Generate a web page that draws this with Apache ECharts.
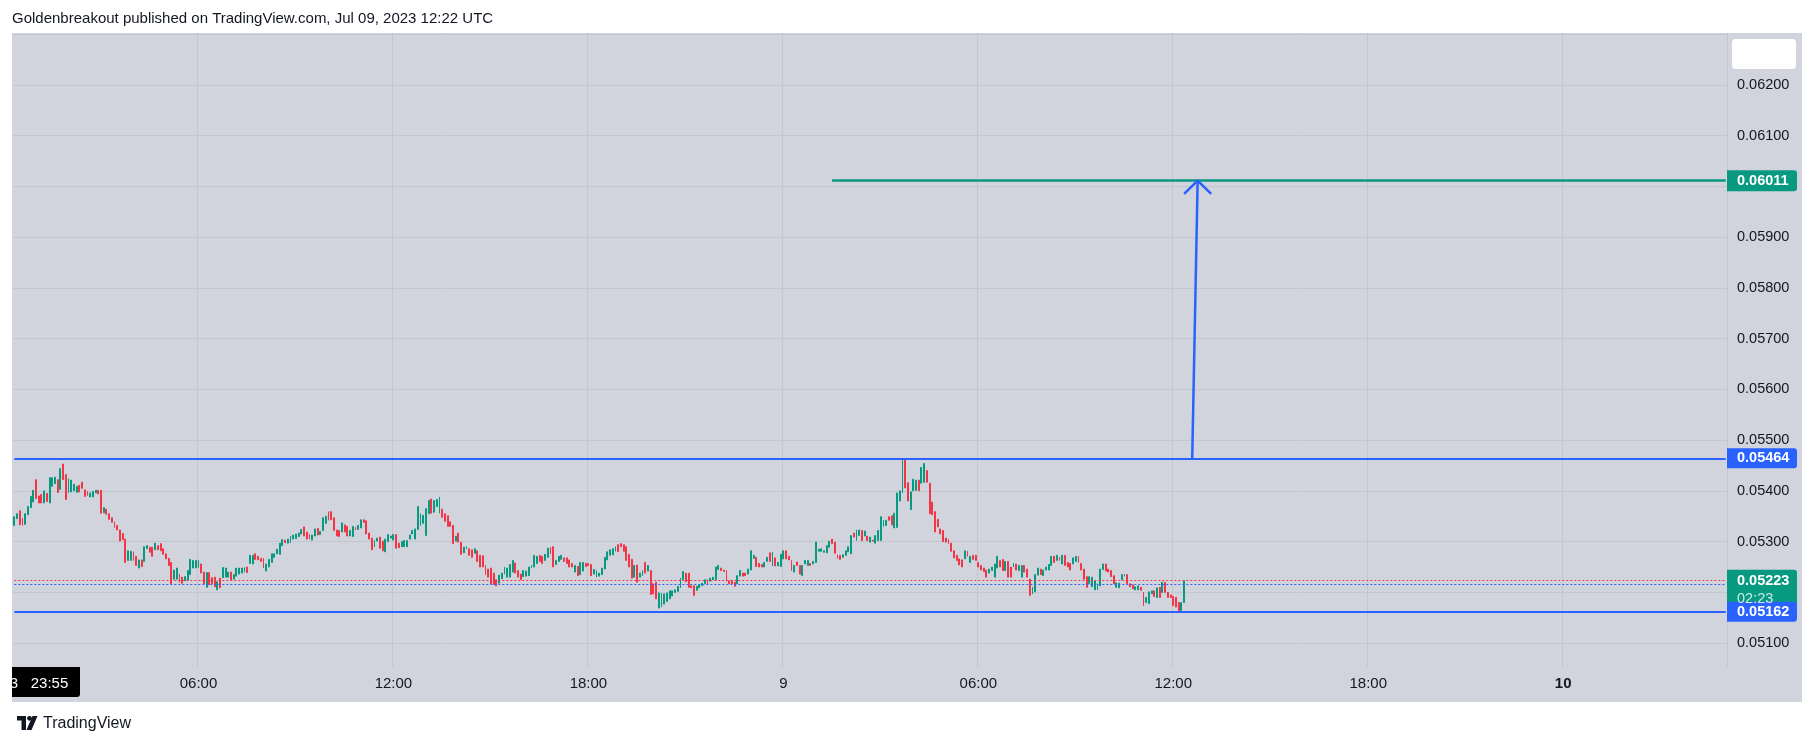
<!DOCTYPE html>
<html><head><meta charset="utf-8">
<script src="https://cdn.jsdelivr.net/npm/echarts@6/dist/echarts.min.js"></script>
<style>
html,body{margin:0;padding:0;background:#fff;}
#wrap{position:relative;width:1815px;height:746px;overflow:hidden;}
#panel{position:absolute;left:12px;top:33px;width:1790px;height:669px;background:#D1D4DC;}
#c{position:absolute;left:0;top:0;width:1815px;height:746px;}
</style>
</head><body><div id="wrap"><div id="panel"></div><div id="c"></div></div>
<script>
// ---- data (5-minute bars, Jul 8 00:20 UTC -> Jul 9 12:20 UTC) ----
const opens = [
0.05332,0.05345,0.05361,0.05346,0.05334,0.05353,0.05367,0.05378,0.05422,0.05390,0.05393,0.05376,0.05395,0.05376,0.05409,0.05414,0.05422,0.05403,0.05453,0.05432,
0.05396,0.05398,0.05400,0.05397,0.05411,0.05417,0.05402,0.05399,0.05388,0.05388,0.05396,0.05401,0.05401,0.05357,0.05364,0.05355,0.05347,0.05339,0.05332,0.05323,
0.05316,0.05305,0.05263,0.05263,0.05280,0.05271,0.05248,0.05264,0.05261,0.05286,0.05289,0.05289,0.05284,0.05292,0.05296,0.05286,0.05276,0.05267,0.05259,0.05226,
0.05226,0.05236,0.05230,0.05223,0.05224,0.05235,0.05248,0.05248,0.05249,0.05256,0.05240,0.05210,0.05239,0.05229,0.05230,0.05205,0.05228,0.05229,0.05230,0.05230,
0.05240,0.05226,0.05232,0.05236,0.05238,0.05240,0.05250,0.05257,0.05256,0.05276,0.05271,0.05267,0.05267,0.05242,0.05250,0.05259,0.05269,0.05276,0.05275,0.05292,
0.05303,0.05297,0.05298,0.05305,0.05306,0.05310,0.05315,0.05329,0.05319,0.05314,0.05303,0.05311,0.05326,0.05314,0.05322,0.05336,0.05359,0.05359,0.05347,0.05323,
0.05322,0.05319,0.05333,0.05330,0.05311,0.05310,0.05328,0.05324,0.05327,0.05343,0.05341,0.05317,0.05307,0.05290,0.05301,0.05309,0.05301,0.05280,0.05300,0.05307,
0.05303,0.05314,0.05297,0.05290,0.05290,0.05290,0.05305,0.05315,0.05305,0.05324,0.05332,0.05336,0.05312,0.05355,0.05384,0.05358,0.05369,0.05356,0.05364,0.05355,
0.05351,0.05339,0.05332,0.05301,0.05317,0.05299,0.05278,0.05286,0.05286,0.05284,0.05277,0.05282,0.05273,0.05272,0.05253,0.05246,0.05248,0.05238,0.05225,0.05218,
0.05227,0.05236,0.05230,0.05230,0.05240,0.05258,0.05243,0.05236,0.05231,0.05232,0.05233,0.05248,0.05250,0.05257,0.05273,0.05271,0.05263,0.05269,0.05289,0.05290,
0.05255,0.05261,0.05265,0.05268,0.05268,0.05264,0.05257,0.05240,0.05251,0.05235,0.05242,0.05257,0.05257,0.05255,0.05236,0.05230,0.05232,0.05235,0.05246,0.05264,
0.05273,0.05274,0.05281,0.05294,0.05296,0.05294,0.05290,0.05275,0.05265,0.05230,0.05254,0.05230,0.05233,0.05259,0.05242,0.05243,0.05217,0.05220,0.05169,0.05171,
0.05177,0.05182,0.05187,0.05193,0.05200,0.05202,0.05209,0.05225,0.05238,0.05238,0.05213,0.05213,0.05204,0.05209,0.05213,0.05217,0.05225,0.05222,0.05225,0.05225,
0.05245,0.05248,0.05244,0.05243,0.05223,0.05223,0.05220,0.05217,0.05232,0.05238,0.05238,0.05236,0.05244,0.05267,0.05269,0.05257,0.05255,0.05250,0.05261,0.05278,
0.05252,0.05268,0.05252,0.05251,0.05266,0.05282,0.05271,0.05263,0.05240,0.05260,0.05253,0.05233,0.05256,0.05253,0.05257,0.05256,0.05259,0.05281,0.05281,0.05279,
0.05278,0.05289,0.05305,0.05299,0.05274,0.05273,0.05269,0.05273,0.05280,0.05276,0.05317,0.05302,0.05312,0.05322,0.05311,0.05311,0.05299,0.05303,0.05297,0.05302,
0.05302,0.05330,0.05332,0.05349,0.05351,0.05327,0.05328,0.05380,0.05396,0.05463,0.05416,0.05363,0.05400,0.05401,0.05421,0.05415,0.05417,0.05440,0.05415,0.05378,
0.05359,0.05344,0.05325,0.05322,0.05307,0.05305,0.05297,0.05282,0.05273,0.05266,0.05264,0.05266,0.05281,0.05259,0.05273,0.05273,0.05259,0.05253,0.05248,0.05244,
0.05238,0.05243,0.05230,0.05248,0.05263,0.05265,0.05243,0.05261,0.05250,0.05250,0.05256,0.05243,0.05230,0.05253,0.05246,0.05226,0.05197,0.05201,0.05234,0.05246,
0.05233,0.05244,0.05244,0.05253,0.05271,0.05263,0.05269,0.05256,0.05273,0.05259,0.05257,0.05256,0.05261,0.05271,0.05257,0.05246,0.05231,0.05217,0.05211,0.05205,
0.05205,0.05213,0.05245,0.05256,0.05246,0.05243,0.05233,0.05210,0.05209,0.05225,0.05232,0.05235,0.05217,0.05215,0.05205,0.05205,0.05210,0.05200,0.05180,0.05178,
0.05197,0.05203,0.05190,0.05210,0.05200,0.05220,0.05200,0.05195,0.05192,0.05190,0.05180,0.05164,0.05180
];
const closes = [
0.05349,0.05355,0.05333,0.05332,0.05355,0.05369,0.05389,0.05401,0.05385,0.05376,0.05376,0.05400,0.05379,0.05426,0.05426,0.05427,0.05397,0.05444,0.05422,0.05383,
0.05424,0.05421,0.05413,0.05409,0.05398,0.05405,0.05389,0.05391,0.05396,0.05399,0.05401,0.05394,0.05356,0.05367,0.05354,0.05344,0.05338,0.05328,0.05323,0.05301,
0.05304,0.05259,0.05282,0.05281,0.05263,0.05253,0.05264,0.05251,0.05290,0.05292,0.05279,0.05271,0.05297,0.05284,0.05282,0.05275,0.05266,0.05253,0.05217,0.05244,
0.05248,0.05220,0.05218,0.05231,0.05243,0.05265,0.05263,0.05263,0.05263,0.05238,0.05217,0.05239,0.05215,0.05217,0.05211,0.05221,0.05209,0.05249,0.05248,0.05240,
0.05225,0.05235,0.05248,0.05248,0.05248,0.05249,0.05239,0.05273,0.05273,0.05265,0.05264,0.05261,0.05248,0.05256,0.05265,0.05276,0.05276,0.05285,0.05297,0.05304,
0.05298,0.05305,0.05311,0.05313,0.05315,0.05317,0.05324,0.05311,0.05305,0.05305,0.05313,0.05325,0.05313,0.05320,0.05347,0.05350,0.05342,0.05343,0.05322,0.05311,
0.05310,0.05337,0.05319,0.05311,0.05322,0.05330,0.05323,0.05332,0.05343,0.05338,0.05315,0.05305,0.05284,0.05302,0.05307,0.05287,0.05282,0.05305,0.05314,0.05311,
0.05314,0.05287,0.05288,0.05300,0.05302,0.05302,0.05313,0.05322,0.05325,0.05369,0.05355,0.05352,0.05365,0.05381,0.05356,0.05381,0.05383,0.05388,0.05348,0.05340,
0.05330,0.05330,0.05296,0.05311,0.05299,0.05275,0.05289,0.05290,0.05273,0.05269,0.05286,0.05261,0.05250,0.05250,0.05235,0.05230,0.05217,0.05215,0.05213,0.05234,
0.05238,0.05250,0.05248,0.05255,0.05263,0.05238,0.05230,0.05225,0.05243,0.05242,0.05250,0.05253,0.05273,0.05271,0.05261,0.05257,0.05275,0.05287,0.05276,0.05250,
0.05263,0.05271,0.05273,0.05261,0.05257,0.05250,0.05250,0.05253,0.05233,0.05259,0.05259,0.05251,0.05253,0.05233,0.05245,0.05243,0.05238,0.05248,0.05269,0.05280,
0.05284,0.05286,0.05290,0.05280,0.05290,0.05281,0.05263,0.05250,0.05228,0.05253,0.05220,0.05238,0.05243,0.05238,0.05253,0.05196,0.05197,0.05187,0.05199,0.05198,
0.05197,0.05199,0.05203,0.05203,0.05205,0.05212,0.05228,0.05241,0.05221,0.05210,0.05209,0.05194,0.05212,0.05215,0.05218,0.05225,0.05215,0.05228,0.05230,0.05250,
0.05253,0.05243,0.05241,0.05222,0.05217,0.05217,0.05212,0.05233,0.05243,0.05232,0.05233,0.05246,0.05282,0.05273,0.05251,0.05250,0.05250,0.05259,0.05269,0.05261,
0.05279,0.05252,0.05259,0.05275,0.05282,0.05266,0.05264,0.05243,0.05253,0.05253,0.05236,0.05253,0.05263,0.05263,0.05253,0.05261,0.05299,0.05285,0.05286,0.05282,
0.05292,0.05301,0.05296,0.05277,0.05267,0.05265,0.05274,0.05282,0.05290,0.05312,0.05309,0.05323,0.05323,0.05302,0.05321,0.05302,0.05309,0.05301,0.05312,0.05322,
0.05349,0.05342,0.05342,0.05342,0.05333,0.05356,0.05396,0.05400,0.05460,0.05406,0.05380,0.05398,0.05423,0.05421,0.05400,0.05446,0.05454,0.05417,0.05355,0.05353,
0.05319,0.05329,0.05315,0.05300,0.05299,0.05296,0.05281,0.05268,0.05263,0.05254,0.05250,0.05282,0.05271,0.05271,0.05265,0.05263,0.05250,0.05244,0.05241,0.05230,
0.05246,0.05250,0.05256,0.05271,0.05250,0.05243,0.05261,0.05230,0.05230,0.05257,0.05244,0.05253,0.05253,0.05240,0.05230,0.05194,0.05210,0.05235,0.05248,0.05235,
0.05244,0.05250,0.05255,0.05271,0.05259,0.05273,0.05263,0.05273,0.05253,0.05250,0.05244,0.05268,0.05271,0.05259,0.05244,0.05226,0.05210,0.05231,0.05230,0.05223,
0.05217,0.05246,0.05256,0.05242,0.05240,0.05231,0.05217,0.05219,0.05218,0.05235,0.05236,0.05217,0.05211,0.05207,0.05211,0.05213,0.05204,0.05174,0.05190,0.05201,
0.05203,0.05192,0.05209,0.05190,0.05220,0.05200,0.05190,0.05190,0.05174,0.05171,0.05164,0.05180,0.05223
];
// horizontal levels
const resistance = 0.05464;
const support = 0.05162;
const target = 0.06011;
const lastPrice = 0.05223;
const prevClose = 0.05217;
const countdown = '02:23';
// target line starts at bar index, arrow from/to (bar index, price)
const targetStartIdx = 302;
const arrowShaft = [[435, 0.05464], [437, 0.06011]];
const arrowHead = [[432, 0.05985], [437, 0.06011], [442, 0.05985]];
// y labels hidden because of tags / edges
const hiddenPriceLabels = [0.052, 0.060, 0.063];
// time slots (5 min) incl. empty future space
const firstBarUTC = Date.UTC(2023, 6, 8, 0, 20);
const slotCount = 633;

const categories = [];
for (let i = 0; i < slotCount; i++) {
  const d = new Date(firstBarUTC + i * 300000);
  const h = d.getUTCHours(), m = d.getUTCMinutes();
  categories.push(h === 0 && m === 0 ? String(d.getUTCDate()) : String(h).padStart(2, '0') + ':' + String(m).padStart(2, '0'));
}
const isTimeTick = v => /^(06|12|18):00$/.test(v) || /^\d+$/.test(v);

const ohlc = opens.map((o, i) => [o, closes[i], Math.min(o, closes[i]), Math.max(o, closes[i])]);

const GREEN = '#089981', RED = '#F23645', BLUE = '#2962FF', TXT = '#131722', GRID = '#C3C6CE';
const FONT = 'Liberation Sans';
const lastIdx = slotCount - 1;
const hLine = (v, style) => [{coord: [0, v], lineStyle: style}, {coord: [lastIdx, v]}];

const chart = echarts.init(document.getElementById('c'), null, {renderer: 'canvas'});
chart.setOption({
  animation: false,
  backgroundColor: 'transparent',
  grid: {left: 13, right: 88, top: 33, bottom: 79},
  xAxis: {
    type: 'category', data: categories, boundaryGap: true,
    axisLine: {show: false}, axisTick: {show: false},
    axisLabel: {
      interval: (i, v) => isTimeTick(v), color: TXT, fontSize: 15, fontFamily: FONT,
      margin: 17, verticalAlign: 'middle',
      formatter: v => v === '10' ? '{b|10}' : v,
      rich: {b: {fontWeight: 'bold', fontSize: 15, fontFamily: FONT, color: TXT}}
    },
    splitLine: {show: true, interval: (i, v) => isTimeTick(v), lineStyle: {color: GRID, width: 1}}
  },
  yAxis: {
    type: 'value', position: 'right', min: 0.05053, max: 0.06302,
    minInterval: 0.001, maxInterval: 0.001, splitNumber: 12,
    axisLine: {show: false}, axisTick: {show: false},
    splitLine: {showMinLine: false, showMaxLine: false, lineStyle: {color: GRID, width: 1}},
    axisLabel: {
      margin: 10, align: 'left', color: TXT, fontSize: 14.5, fontFamily: FONT,
      showMinLabel: false, showMaxLabel: false,
      formatter: v => hiddenPriceLabels.some(h => Math.abs(h - v) < 1e-7) ? '' : v.toFixed(5)
    }
  },
  series: [
    {
      type: 'candlestick', data: ohlc, barWidth: 1.4,
      itemStyle: {color: GREEN, color0: RED, borderColor: GREEN, borderColor0: RED, borderWidth: 1},
      markLine: {
        silent: true, symbol: ['none', 'none'], animation: false,
        label: {show: false},
        data: [
          hLine(lastPrice, {color: RED, width: 1, type: [2, 2]}),
          hLine(prevClose, {color: BLUE, width: 1, type: [2, 2]}),
          hLine(resistance, {color: BLUE, width: 2, type: 'solid'}),
          hLine(support, {color: BLUE, width: 2, type: 'solid'}),
          [{coord: [targetStartIdx, target], lineStyle: {color: GREEN, width: 2.5, type: 'solid'}}, {coord: [lastIdx, target]}]
        ]
      }
    },
    {type: 'line', data: arrowShaft, symbol: 'none', lineStyle: {color: BLUE, width: 2.5}, z: 5},
    {type: 'line', data: arrowHead, symbol: 'none', lineStyle: {color: BLUE, width: 2.5}, z: 5}
  ]
});

// price tags on the price scale, positioned through the axis scale
const yPix = v => chart.convertToPixel({yAxisIndex: 0}, v);
const tagX = 1727, tagW = 70;
function tag(price, color, h) {
  const y = yPix(price);
  return [
    {type: 'rect', z: 100, shape: {x: tagX, y: y - h / 2, width: tagW, height: h, r: [0, 3, 3, 0]}, style: {fill: color}},
    {type: 'text', z: 101, style: {x: tagX + 10, y: y, text: price.toFixed(5), fill: '#fff', font: 'bold 14.5px ' + FONT, textVerticalAlign: 'middle'}}
  ];
}
const yl = yPix(lastPrice);
const graphics = [
  {type: 'text', z: 100, style: {x: 12, y: 19, text: 'Goldenbreakout published on TradingView.com, Jul 09, 2023 12:22 UTC', fill: TXT, font: '15px ' + FONT, textVerticalAlign: 'middle'}},
  {type: 'rect', z: 100, shape: {x: 1732, y: 39, width: 64, height: 30, r: 4}, style: {fill: '#fff'}},
  ...tag(target, GREEN, 21),
  ...tag(resistance, BLUE, 20),
  {type: 'rect', z: 100, shape: {x: tagX, y: yl - 11, width: tagW, height: 39, r: [0, 3, 0, 0]}, style: {fill: GREEN}},
  {type: 'text', z: 101, style: {x: tagX + 10, y: yl, text: lastPrice.toFixed(5), fill: '#fff', font: 'bold 14.5px ' + FONT, textVerticalAlign: 'middle'}},
  {type: 'text', z: 101, style: {x: tagX + 10, y: yl + 18, text: countdown, fill: 'rgba(255,255,255,0.8)', font: '14.5px ' + FONT, textVerticalAlign: 'middle'}},
  ...tag(support, BLUE, 20),
  // time label box at left of time scale
  {type: 'rect', z: 100, shape: {x: 12, y: 667, width: 68, height: 30, r: [0, 0, 3, 0]}, style: {fill: '#000'}},
  {type: 'text', z: 101, style: {x: 18, y: 684, text: "Jul '23", fill: '#fff', font: '15px ' + FONT, textAlign: 'right', textVerticalAlign: 'middle'}},
  {type: 'text', z: 101, style: {x: 49.5, y: 684, text: '23:55', fill: '#fff', font: '15px ' + FONT, textAlign: 'center', textVerticalAlign: 'middle'}},
  {type: 'rect', z: 102, shape: {x: 0, y: 660, width: 12, height: 50}, style: {fill: '#fff'}},
  // TradingView logo
  {type: 'polygon', z: 100, shape: {points: [[17, 716], [26, 716], [26, 730], [21.5, 730], [21.5, 720.5], [17, 720.5]]}, style: {fill: TXT}},
  {type: 'circle', z: 100, shape: {cx: 29.5, cy: 718.3, r: 2.4}, style: {fill: TXT}},
  {type: 'polygon', z: 100, shape: {points: [[32.5, 716], [37.5, 716], [31.5, 730], [26.5, 730]]}, style: {fill: TXT}},
  {type: 'text', z: 100, style: {x: 43, y: 724, text: 'TradingView', fill: TXT, font: '16px ' + FONT, textVerticalAlign: 'middle'}}
];
chart.setOption({graphic: graphics});
</script>
</body></html>
